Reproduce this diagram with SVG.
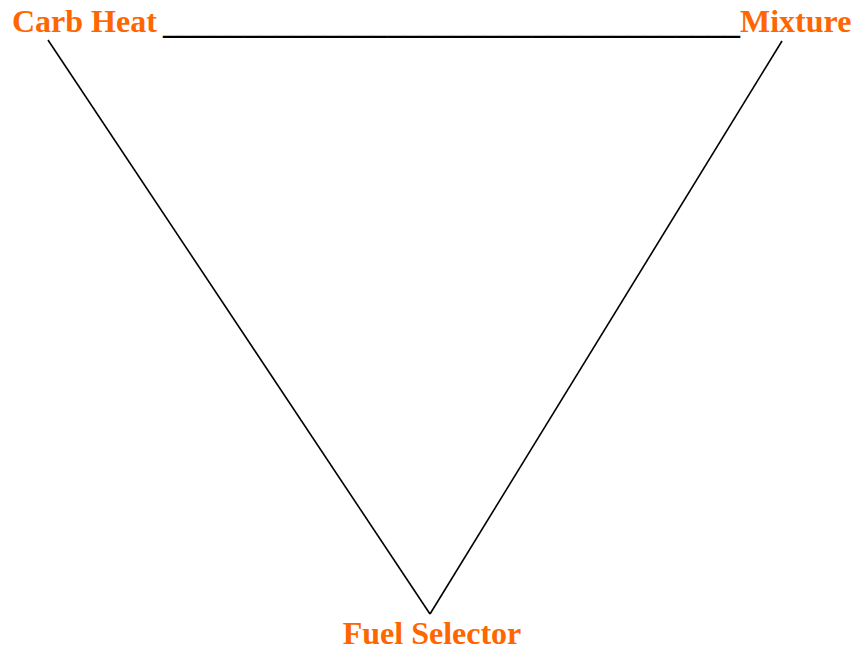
<svg xmlns="http://www.w3.org/2000/svg" width="857" height="650" viewBox="0 0 857 650">
<style>
.lbl{font-family:"Liberation Serif","Times New Roman",serif;font-weight:bold;font-size:32px;fill:#ff6600}
.bar{font-family:"Liberation Serif","Times New Roman",serif;font-weight:bold;font-size:32px;fill:#000}
.edge{stroke:#000;stroke-width:1.6;fill:none}
</style>
<rect width="857" height="650" fill="#fff"/>
<g id="connectors">
<line class="edge" x1="48" y1="40" x2="430" y2="614"/>
<line class="edge" x1="782" y1="41" x2="430" y2="614"/>
<text class="bar" x="163" y="34" textLength="577" lengthAdjust="spacingAndGlyphs">____________________________________</text>
</g>
<g id="carb-heat"><text class="lbl" x="12" y="32">Carb Heat</text></g>
<g id="mixture"><text class="lbl" x="740" y="32">Mixture</text></g>
<g id="fuel-selector"><text class="lbl" x="432" y="644" text-anchor="middle">Fuel Selector</text></g>
</svg>
